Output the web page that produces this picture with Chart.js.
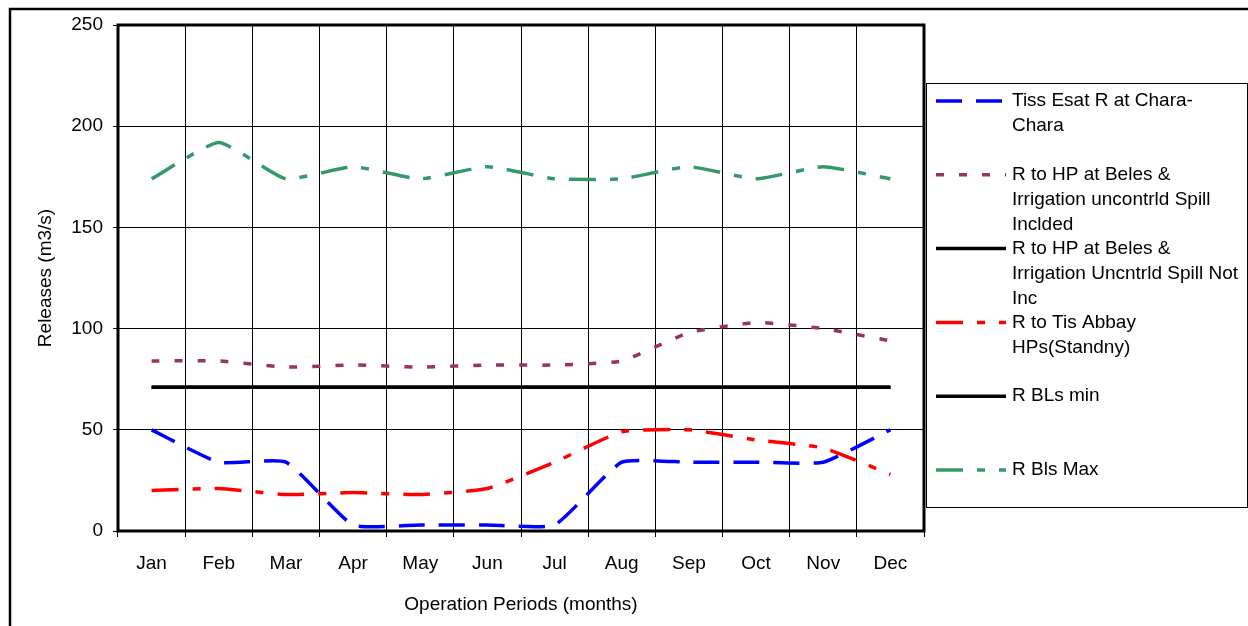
<!DOCTYPE html>
<html>
<head>
    <title>Releases Chart</title>
    <style>
        body { margin: 0; background: #fff; }
    </style>
    <script src="https://cdn.jsdelivr.net/npm/chart.js"></script>
</head>
<body>
    <canvas id="releasesChart" width="1248" height="626"></canvas>
    <script>
        // Data
        var months = ['Jan', 'Feb', 'Mar', 'Apr', 'May', 'Jun', 'Jul', 'Aug', 'Sep', 'Oct', 'Nov', 'Dec'];
        var tissEsat = [50, 34, 34, 3, 3, 3, 3, 34, 34, 34, 34, 50];
        var hpSpillIncl = [84, 84, 81, 82, 81, 82, 82, 84, 98, 103, 100, 94];
        var hpSpillNotInc = [71, 71, 71, 71, 71, 71, 71, 71, 71, 71, 71, 71];
        var tisAbbay = [20, 21, 18, 19, 18, 21, 34, 49, 50, 45, 41, 28];
        var blsMin = [71, 71, 71, 71, 71, 71, 71, 71, 71, 71, 71, 71];
        var blsMax = [174, 192, 174, 180, 174, 180, 174, 174, 180, 174, 180, 174];
        var yTicks = [0, 50, 100, 150, 200, 250];

        // Legend text, already wrapped like the original
        var legendText = [
            ['Tiss Esat R at Chara-', 'Chara'],
            ['R to HP at Beles &', 'Irrigation uncontrld Spill', 'Inclded'],
            ['R to HP at Beles &', 'Irrigation Uncntrld Spill Not', 'Inc'],
            ['R to Tis Abbay', 'HPs(Standny)'],
            ['R BLs min'],
            ['R Bls Max']
        ];

        var FONT = '"Liberation Sans", Arial, sans-serif';

        function series(label, data, color, dash) {
            return {
                label: label,
                data: data,
                borderColor: color,
                backgroundColor: color,
                borderWidth: 3.5,
                borderDash: dash,
                borderCapStyle: 'butt',
                pointRadius: 0,
                tension: 0.15,
                fill: false
            };
        }

        // frame, plot border and wrapped legend
        var framePlugin = {
            id: 'frame',
            beforeDraw: function (chart) {
                var ctx = chart.ctx;
                ctx.save();
                ctx.fillStyle = '#fff';
                ctx.fillRect(0, 0, chart.width, chart.height);
                ctx.strokeStyle = '#000';
                ctx.lineWidth = 2.5;
                ctx.strokeRect(10, 9, chart.width + 50, chart.height + 50);
                ctx.restore();
            },
            afterDatasetsDraw: function (chart) {
                var a = chart.chartArea;
                var ctx = chart.ctx;
                ctx.save();
                ctx.strokeStyle = '#000';
                ctx.lineWidth = 3;
                ctx.strokeRect(a.left, a.top, a.right - a.left, a.bottom - a.top);
                ctx.restore();
            },
            afterDraw: function (chart) {
                var ctx = chart.ctx;
                ctx.save();
                ctx.fillStyle = '#fff';
                ctx.fillRect(926.5, 83.5, 321, 424);
                ctx.strokeStyle = '#000';
                ctx.lineWidth = 1;
                ctx.strokeRect(926.5, 83.5, 321, 424);

                ctx.font = '19px ' + FONT;
                ctx.textBaseline = 'middle';
                ctx.textAlign = 'left';
                chart.data.datasets.forEach(function (ds, i) {
                    var y = 101 + i * 73.8;
                    ctx.strokeStyle = ds.borderColor;
                    ctx.lineWidth = ds.borderWidth;
                    ctx.lineCap = 'butt';
                    ctx.setLineDash(ds.borderDash || []);
                    ctx.beginPath();
                    ctx.moveTo(936, y);
                    ctx.lineTo(1006, y);
                    ctx.stroke();
                    ctx.setLineDash([]);
                    ctx.fillStyle = '#000';
                    legendText[i].forEach(function (line, j) {
                        ctx.fillText(line, 1012, y + j * 25);
                    });
                });
                ctx.restore();
            }
        };

        var ctx = document.getElementById('releasesChart').getContext('2d');
        var myChart = new Chart(ctx, {
            type: 'line',
            data: {
                labels: months,
                datasets: [
                    series('Tiss Esat R at Chara-Chara', tissEsat, '#0000FF', [26, 14]),
                    series('R to HP at Beles & Irrigation uncontrld Spill Inclded', hpSpillIncl, '#993366', [8, 15]),
                    series('R to HP at Beles & Irrigation Uncntrld Spill Not Inc', hpSpillNotInc, '#000000', []),
                    series('R to Tis Abbay HPs(Standny)', tisAbbay, '#FF0000', [27, 14, 8, 14]),
                    series('R BLs min', blsMin, '#000000', []),
                    series('R Bls Max', blsMax, '#339966', [27, 14, 8, 14])
                ]
            },
            options: {
                responsive: false,
                animation: false,
                layout: {
                    padding: { left: 10, top: 25, right: 324, bottom: 0 }
                },
                plugins: {
                    legend: { display: false },
                    tooltip: { enabled: false }
                },
                scales: {
                    x: {
                        offset: true,
                        grid: {
                            offset: true,
                            color: '#000',
                            lineWidth: 1,
                            tickLength: 6
                        },
                        border: { display: false },
                        ticks: {
                            color: '#000',
                            font: { family: FONT, size: 19 },
                            padding: 15,
                            maxRotation: 0,
                            autoSkip: false
                        },
                        title: {
                            display: true,
                            text: 'Operation Periods (months)',
                            color: '#000',
                            font: { family: FONT, size: 19 },
                            padding: { top: 0, bottom: 10 }
                        },
                        afterFit: function (scale) { scale.height = 95; }
                    },
                    y: {
                        min: 0,
                        max: 250,
                        afterBuildTicks: function (scale) {
                            scale.ticks = yTicks.map(function (v) { return { value: v }; });
                        },
                        grid: {
                            color: '#000',
                            lineWidth: 1,
                            tickLength: 5
                        },
                        border: { display: false },
                        ticks: {
                            color: '#000',
                            font: { family: FONT, size: 19 },
                            padding: 10
                        },
                        title: {
                            display: true,
                            text: 'Releases (m3/s)',
                            color: '#000',
                            font: { family: FONT, size: 19 },
                            padding: { top: 24, bottom: 0 }
                        },
                        afterFit: function (scale) { scale.width = 108; }
                    }
                }
            },
            plugins: [framePlugin]
        });
    </script>
</body>
</html>
